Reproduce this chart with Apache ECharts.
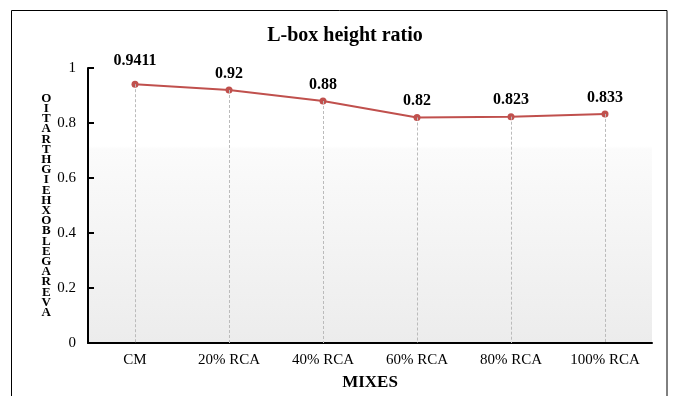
<!DOCTYPE html>
<html><head><meta charset="utf-8">
<script src="https://cdn.jsdelivr.net/npm/echarts@6/dist/echarts.min.js"></script>
<style>html,body{margin:0;padding:0;background:#fff}#c{width:673px;height:396px}</style>
</head><body><div id="c"></div>
<script>
var categories = ['CM', '20% RCA', '40% RCA', '60% RCA', '80% RCA', '100% RCA'];
var values = [0.9411, 0.92, 0.88, 0.82, 0.823, 0.833];
var valueLabels = ['0.9411', '0.92', '0.88', '0.82', '0.823', '0.833'];
var yTicks = [0, 0.2, 0.4, 0.6, 0.8, 1];
var title = 'L-box height ratio';
var xName = 'MIXES';
var yName = 'AVERAGE LBOX HEIGHT RATIO';

var font = '"Liberation Serif", "Times New Roman", serif';
var yNameStacked = yName.replace(/[^A-Z]/g, '').split('').reverse().join('\n');

var chart = echarts.init(document.getElementById('c'));
chart.setOption({
  animation: false,
  title: {
    text: title, left: 340, textAlign: 'center', top: 21,
    textStyle: { fontFamily: font, fontWeight: 'bold', fontSize: 20, color: '#000' }
  },
  graphic: [{
    type: 'rect', z: -1, silent: true,
    shape: { x: 11.5, y: 10.5, width: 655.5, height: 400 },
    style: { fill: 'none', stroke: '#000', lineWidth: 1 }
  }],
  grid: {
    left: 88, right: 21, top: 68, bottom: 53, show: true, borderWidth: 0,
    outerBoundsMode: 'none', containLabel: false,
    backgroundColor: new echarts.graphic.LinearGradient(0, 0, 0, 1, [
      { offset: 0, color: '#ffffff' },
      { offset: 0.285, color: '#ffffff' },
      { offset: 0.295, color: '#fbfbfb' },
      { offset: 1, color: '#ececec' }
    ])
  },
  xAxis: {
    type: 'category', data: categories, boundaryGap: true,
    name: xName, nameLocation: 'middle', nameGap: 31,
    nameTextStyle: { fontFamily: font, fontWeight: 'bold', fontSize: 17, color: '#000' },
    axisLine: { lineStyle: { color: '#000', width: 2 } },
    axisTick: { show: false },
    axisLabel: { fontFamily: font, fontSize: 15, color: '#000', margin: 10 },
    splitLine: { show: false }
  },
  yAxis: {
    type: 'value', min: 0, max: 1, interval: 0.2,
    name: yNameStacked, nameLocation: 'middle', nameGap: 35, nameRotate: 0,
    nameTextStyle: { fontFamily: font, fontWeight: 'bold', fontSize: 13, color: '#000', lineHeight: 10.2, align: 'center', verticalAlign: 'middle' },
    axisLine: { show: true, lineStyle: { color: '#000', width: 2 } },
    axisTick: { show: true, inside: true, length: 6, lineStyle: { color: '#000', width: 2 } },
    axisLabel: {
      fontFamily: font, fontSize: 15, color: '#000', margin: 12,
      formatter: function (v) { return yTicks.indexOf(Math.round(v * 10) / 10) >= 0 ? String(Math.round(v * 10) / 10) : ''; }
    },
    splitLine: { show: false }
  },
  series: [{
    type: 'line', data: values.map(function (v, i) {
      return i === 0 ? { value: v, label: { distance: 12 } } : v;
    }),
    symbol: 'circle', symbolSize: 7,
    lineStyle: { color: '#c0504d', width: 2 },
    itemStyle: { color: '#c0504d' },
    label: {
      show: true, position: 'top', distance: 5,
      fontFamily: font, fontWeight: 'bold', fontSize: 16, color: '#000',
      formatter: function (p) { return valueLabels[p.dataIndex]; }
    },
    markLine: {
      silent: true, symbol: 'none', label: { show: false },
      lineStyle: { color: '#bbbbbb', type: [3, 2], width: 1 },
      data: values.map(function (v, i) {
        return [{ coord: [i, v] }, { coord: [i, 0] }];
      })
    },
    z: 3
  }]
});
</script></body></html>
